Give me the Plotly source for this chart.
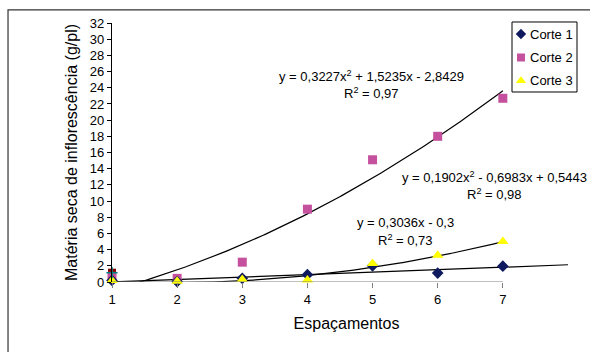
import numpy as np
import plotly.graph_objects as go

# ---- data ----
espacamentos = [1, 2, 3, 4, 5, 6, 7]
corte1 = [0.2, 0.05, 0.45, 0.9, 2.0, 1.1, 1.95]
corte2 = [0.7, 0.45, 2.45, 9.0, 15.1, 18.0, 22.7]
corte3 = [0.2, 0.1, 0.3, 0.25, 2.3, 3.3, 5.0]
extra_x = [1]
extra_maroon = [1.15]
extra_teal = [1.15]

series_names = ["Corte 1", "Corte 2", "Corte 3"]
series_colors = ["#0F1A5E", "#C4509E", "#FFFF00"]
series_symbols = ["diamond", "square", "triangle-up"]
series_sizes = [9, 9, 10]

# trendline coefficients (as printed on the chart)
lin1 = (0.3036, -0.3)
quad2 = (0.3227, 1.5235, -2.8429)
quad3 = (0.1902, -0.6983, 0.5443)

y_ticks = list(range(0, 33, 2))

FONT = "Liberation Sans, Arial, sans-serif"

fig = go.Figure()

# trendlines
xl = np.linspace(1, 8, 200)
fig.add_trace(go.Scatter(x=xl, y=lin1[0] * xl + lin1[1], mode="lines",
                         line=dict(color="black", width=1.2), showlegend=False, hoverinfo="skip"))
xq = np.linspace(1, 7, 200)
fig.add_trace(go.Scatter(x=xq, y=quad2[0] * xq**2 + quad2[1] * xq + quad2[2], mode="lines",
                         line=dict(color="black", width=1.2), showlegend=False, hoverinfo="skip"))
fig.add_trace(go.Scatter(x=xq, y=quad3[0] * xq**2 + quad3[1] * xq + quad3[2], mode="lines",
                         line=dict(color="black", width=1.2), showlegend=False, hoverinfo="skip"))

# extra markers at x=1
fig.add_trace(go.Scatter(x=extra_x, y=extra_maroon, mode="markers", showlegend=False,
                         marker=dict(symbol="square", color="#800000", size=8), cliponaxis=False))

series_data = [corte1, corte2, corte3]
for i in [1, 0, 2]:
    fig.add_trace(go.Scatter(x=espacamentos, y=series_data[i], mode="markers",
                             name=series_names[i], showlegend=False,
                             marker=dict(symbol=series_symbols[i], color=series_colors[i],
                                         size=series_sizes[i]), cliponaxis=False))

fig.add_trace(go.Scatter(x=extra_x, y=extra_teal, mode="markers", showlegend=False,
                         marker=dict(symbol="cross-thin", color="#008080", size=8,
                                     line=dict(color="#008080", width=1.5)), cliponaxis=False))

# ---- compact legend (box, symbols, labels) ----
leg_x0, leg_x1, leg_y0, leg_y1 = 0.8529, 0.9915, 0.7336, 1.0039
leg_rows = [0.9575, 0.8668, 0.7772]
leg_sym_x = 0.872
leg_txt_x = 0.887
fig.add_shape(type="rect", xref="paper", yref="paper", x0=leg_x0, x1=leg_x1, y0=leg_y0, y1=leg_y1,
              line=dict(color="black", width=1), fillcolor="rgba(0,0,0,0)", layer="above")
for i in range(3):
    fig.add_trace(go.Scatter(x=[leg_sym_x], y=[leg_rows[i]], xaxis="x2", yaxis="y2",
                             mode="markers", showlegend=False, hoverinfo="skip", cliponaxis=False,
                             marker=dict(symbol=series_symbols[i], color=series_colors[i],
                                         size=series_sizes[i] - 1)))
    fig.add_annotation(xref="paper", yref="paper", x=leg_txt_x, y=leg_rows[i], xanchor="left",
                       yanchor="middle", showarrow=False, text=series_names[i],
                       font=dict(family=FONT, size=13, color="black"))

# x axis line (gray) from 1 to 7
fig.add_shape(type="line", xref="x", yref="y", x0=1, x1=7, y0=0, y1=0,
              line=dict(color="#808080", width=1.2))
# outer chart border (top & left visible)
fig.add_shape(type="rect", xref="paper", yref="paper", x0=-0.2217, x1=1.2, y0=-0.5, y1=1.051,
              line=dict(color="#333333", width=1.2))

ann_font = dict(family=FONT, size=13, color="black")
annotations = [
    dict(x=4.98, y=25.4, text="y = 0,3227x<sup>2</sup> + 1,5235x - 2,8429"),
    dict(x=4.98, y=23.3, text="R<sup>2</sup> = 0,97"),
    dict(x=6.87, y=12.96, text="y = 0,1902x<sup>2</sup> - 0,6983x + 0,5443"),
    dict(x=6.87, y=10.86, text="R<sup>2</sup> = 0,98"),
    dict(x=5.5, y=7.4, text="y = 0,3036x - 0,3"),
    dict(x=5.5, y=5.2, text="R<sup>2</sup> = 0,73"),
]
for a in annotations:
    fig.add_annotation(xref="x", yref="y", showarrow=False, font=ann_font, **a)

fig.update_layout(
    width=590, height=352,
    margin=dict(l=112, r=9, t=23, b=70, autoexpand=False),
    paper_bgcolor="white", plot_bgcolor="white",
    font=dict(family=FONT, size=13, color="black"),
    showlegend=False,
    xaxis=dict(range=[1, 8.2], tickmode="array", tickvals=espacamentos,
               ticktext=[str(v) for v in espacamentos], showgrid=False, zeroline=False,
               showline=False, ticks="outside", ticklen=5, tickcolor="#808080",
               tickfont=dict(size=13),
               title=dict(text="Espaçamentos", font=dict(size=16), standoff=12)),
    yaxis=dict(range=[0, 32], tickmode="array", tickvals=y_ticks, showgrid=False,
               zeroline=False, showline=True, linecolor="black", linewidth=1.2,
               ticks="outside", ticklen=4, tickcolor="black", tickfont=dict(size=13),
               title=dict(text="Matéria seca de inflorescência (g/pl)", font=dict(size=16),
                          standoff=8)),
    xaxis2=dict(overlaying="x", range=[0, 1], visible=False, anchor="y2"),
    yaxis2=dict(overlaying="y", range=[0, 1], visible=False, anchor="x2"),
)

fig.write_html("out.html")
